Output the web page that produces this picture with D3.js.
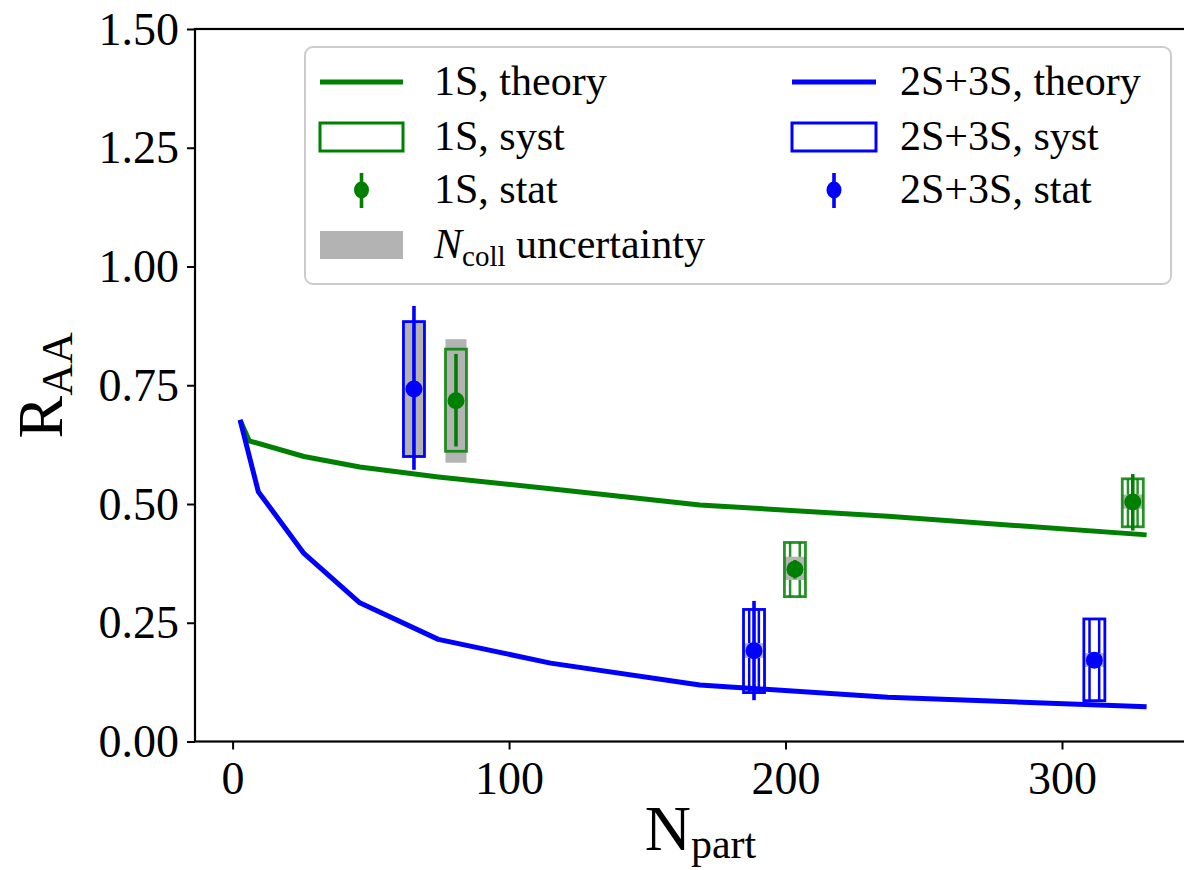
<!DOCTYPE html>
<html>
<head>
<meta charset="utf-8">
<script src="https://cdn.jsdelivr.net/npm/d3@7"></script>
<style>
body{margin:0;background:#fff}
text{font-family:'Liberation Serif','Times New Roman',serif;fill:#000}
</style>
</head>
<body>
<svg id="chart" width="1184" height="870"></svg>
<script>
// theory curves
var th1S_npart = [2.7, 6, 25.8, 46, 74.4, 115, 169, 237, 330.6];
var th1S_raa   = [0.677, 0.633, 0.600, 0.578, 0.557, 0.532, 0.498, 0.474, 0.435];
var th23S_npart = [2.7, 9.3, 25.8, 46, 74.4, 115, 169, 237, 330.6];
var th23S_raa   = [0.677, 0.526, 0.396, 0.292, 0.215, 0.165, 0.119, 0.093, 0.073];

// measured points
var d1S_npart = [80.8, 203.4, 325.6];
var d1S_raa   = [0.7175, 0.3625, 0.504];
var d1S_statLo = [0.621, 0.343, 0.444];
var d1S_statHi = [0.816, 0.382, 0.563];
var d1S_systLo = [0.611, 0.305, 0.452];
var d1S_systHi = [0.826, 0.419, 0.553];
var d1S_ncollLo = [0.587, 0.340, 0.490];
var d1S_ncollHi = [0.847, 0.389, 0.520];

var d23S_npart = [65.6, 188.6, 311.7];
var d23S_raa   = [0.742, 0.191, 0.171];
var d23S_statLo = [0.572, 0.087, 0.156];
var d23S_statHi = [0.917, 0.296, 0.186];
var d23S_systLo = [0.600, 0.103, 0.086];
var d23S_systHi = [0.884, 0.278, 0.258];
var d23S_ncollLo = [0.602, 0.176, 0.157];
var d23S_ncollHi = [0.882, 0.207, 0.186];

var xTicks = [0, 100, 200, 300];
var yTicks = [0, 0.25, 0.5, 0.75, 1.0, 1.25, 1.5];

///some constants
var green = "#008000", blue = "#0000ff", gray = "#b3b3b3";
var boxHalf = 3.8; // half width of syst / ncoll boxes in Npart units
var margin = {left: 195, top: 29, right: 1190, bottom: 741.5};

var svg = d3.select("#chart");

var x = d3.scaleLinear().domain([-13.6, 346.3]).range([margin.left, margin.right]);
var y = d3.scaleLinear().domain([0, 1.5]).range([margin.bottom, margin.top]);

//axes
var xAxis = d3.axisBottom(x).tickValues(xTicks).tickSize(8).tickPadding(10).tickFormat(d3.format("d"));
var yAxis = d3.axisLeft(y).tickValues(yTicks).tickSize(8).tickPadding(8).tickFormat(d3.format(".2f"));

var gx = svg.append("g").attr("transform", "translate(0," + margin.bottom + ")").call(xAxis);
var gy = svg.append("g").attr("transform", "translate(" + margin.left + ",0)").call(yAxis);
[gx, gy].forEach(function(g){
	g.select(".domain").remove();
	g.selectAll(".tick line").attr("stroke", "#000").attr("stroke-width", 2);
	g.selectAll(".tick text").style("font-size", "46px").attr("fill", "#000");
});
gy.selectAll(".tick text").attr("dy", "0.33em");
gx.selectAll(".tick text").attr("dy", "0.76em");

// spines (right one falls outside the view)
svg.append("rect")
	.attr("x", margin.left).attr("y", margin.top)
	.attr("width", margin.right - margin.left).attr("height", margin.bottom - margin.top)
	.attr("fill", "none").attr("stroke", "#000").attr("stroke-width", 2.2);

var plot = svg.append("g");

//theory lines
var line = d3.line().x(function(d){return x(d[0]);}).y(function(d){return y(d[1]);});
plot.append("path").datum(d3.zip(th1S_npart, th1S_raa))
	.attr("d", line).attr("fill", "none").attr("stroke", green).attr("stroke-width", 5).attr("stroke-linejoin", "round");
plot.append("path").datum(d3.zip(th23S_npart, th23S_raa))
	.attr("d", line).attr("fill", "none").attr("stroke", blue).attr("stroke-width", 5).attr("stroke-linejoin", "round");

function drawSeries(npart, raa, sLo, sHi, yLo, yHi, nLo, nHi, color, edgeOpacity){
	var g = plot.append("g");
	npart.forEach(function(n, i){
		var x0 = x(n - boxHalf), x1 = x(n + boxHalf), w = x1 - x0;
		// hatch lines
		[0.27, 0.73].forEach(function(f){
			g.append("line")
				.attr("x1", x0 + f * w).attr("x2", x0 + f * w)
				.attr("y1", y(yHi[i])).attr("y2", y(yLo[i]))
				.attr("stroke", color).attr("stroke-width", 2.5).attr("opacity", edgeOpacity);
		});
		// ncoll uncertainty
		g.append("rect")
			.attr("x", x0).attr("width", w)
			.attr("y", y(nHi[i])).attr("height", y(nLo[i]) - y(nHi[i]))
			.attr("fill", gray);
		// syst box
		g.append("rect")
			.attr("x", x0).attr("width", w)
			.attr("y", y(yHi[i])).attr("height", y(yLo[i]) - y(yHi[i]))
			.attr("fill", "none").attr("stroke", color).attr("stroke-width", 2.8).attr("stroke-opacity", edgeOpacity);
		// stat bar
		g.append("line")
			.attr("x1", x(n)).attr("x2", x(n))
			.attr("y1", y(sHi[i])).attr("y2", y(sLo[i]))
			.attr("stroke", color).attr("stroke-width", 3.6);
		g.append("circle")
			.attr("cx", x(n)).attr("cy", y(raa[i])).attr("r", 8.5)
			.attr("fill", color);
	});
}
drawSeries(d1S_npart, d1S_raa, d1S_statLo, d1S_statHi, d1S_systLo, d1S_systHi, d1S_ncollLo, d1S_ncollHi, green, 0.85);
drawSeries(d23S_npart, d23S_raa, d23S_statLo, d23S_statHi, d23S_systLo, d23S_systHi, d23S_ncollLo, d23S_ncollHi, blue, 1);

//axis labels
var xl = svg.append("text")
	.attr("x", (margin.left + margin.right) / 2 + 8).attr("y", 850)
	.attr("text-anchor", "middle").style("font-size", "64px");
xl.append("tspan").text("N");
xl.append("tspan").attr("dy", 8).style("font-size", "42px").text("part");

var yl = svg.append("text")
	.attr("transform", "translate(62," + ((margin.top + margin.bottom) / 2) + ") rotate(-90)")
	.attr("text-anchor", "middle").style("font-size", "64px");
yl.append("tspan").text("R");
yl.append("tspan").attr("dy", 10).style("font-size", "44px").text("AA");

//legend
var leg = svg.append("g");
leg.append("rect")
	.attr("x", 305).attr("y", 47).attr("width", 866).attr("height", 237)
	.attr("rx", 8).attr("fill", "#fff").attr("fill-opacity", 0.8)
	.attr("stroke", "#cccccc").attr("stroke-width", 2);

var rows = [82, 137, 190, 245];
var cols = [{h0: 320, h1: 403, t: 434}, {h0: 792, h1: 876, t: 900}];
var legendItems = [
	{col: 0, row: 0, type: "line", color: green, label: "1S, theory"},
	{col: 0, row: 1, type: "box", color: green, label: "1S, syst"},
	{col: 0, row: 2, type: "stat", color: green, label: "1S, stat"},
	{col: 0, row: 3, type: "ncoll", color: gray, label: null},
	{col: 1, row: 0, type: "line", color: blue, label: "2S+3S, theory"},
	{col: 1, row: 1, type: "box", color: blue, label: "2S+3S, syst"},
	{col: 1, row: 2, type: "stat", color: blue, label: "2S+3S, stat"}
];
legendItems.forEach(function(it){
	var c = cols[it.col], cy = rows[it.row], mid = (c.h0 + c.h1) / 2;
	if (it.type == "line") {
		leg.append("line").attr("x1", c.h0).attr("x2", c.h1).attr("y1", cy).attr("y2", cy)
			.attr("stroke", it.color).attr("stroke-width", 5);
	} else if (it.type == "box") {
		leg.append("rect").attr("x", c.h0).attr("y", cy - 14).attr("width", c.h1 - c.h0).attr("height", 28)
			.attr("fill", "none").attr("stroke", it.color).attr("stroke-width", 3);
	} else if (it.type == "stat") {
		leg.append("line").attr("x1", mid).attr("x2", mid).attr("y1", cy - 17).attr("y2", cy + 18)
			.attr("stroke", it.color).attr("stroke-width", 3.6);
		leg.append("ellipse").attr("cx", mid).attr("cy", cy).attr("rx", 7.5).attr("ry", 8.5).attr("fill", it.color);
	} else {
		leg.append("rect").attr("x", c.h0).attr("y", cy - 14).attr("width", c.h1 - c.h0).attr("height", 28)
			.attr("fill", it.color);
	}
	var t = leg.append("text").attr("x", c.t).attr("y", cy + 13).style("font-size", "42px");
	if (it.label) {
		t.text(it.label);
	} else {
		t.append("tspan").style("font-style", "italic").text("N");
		t.append("tspan").attr("dy", 8).style("font-size", "29px").text("coll");
		t.append("tspan").attr("dy", -8).text(" uncertainty");
	}
});
</script>
</body>
</html>
